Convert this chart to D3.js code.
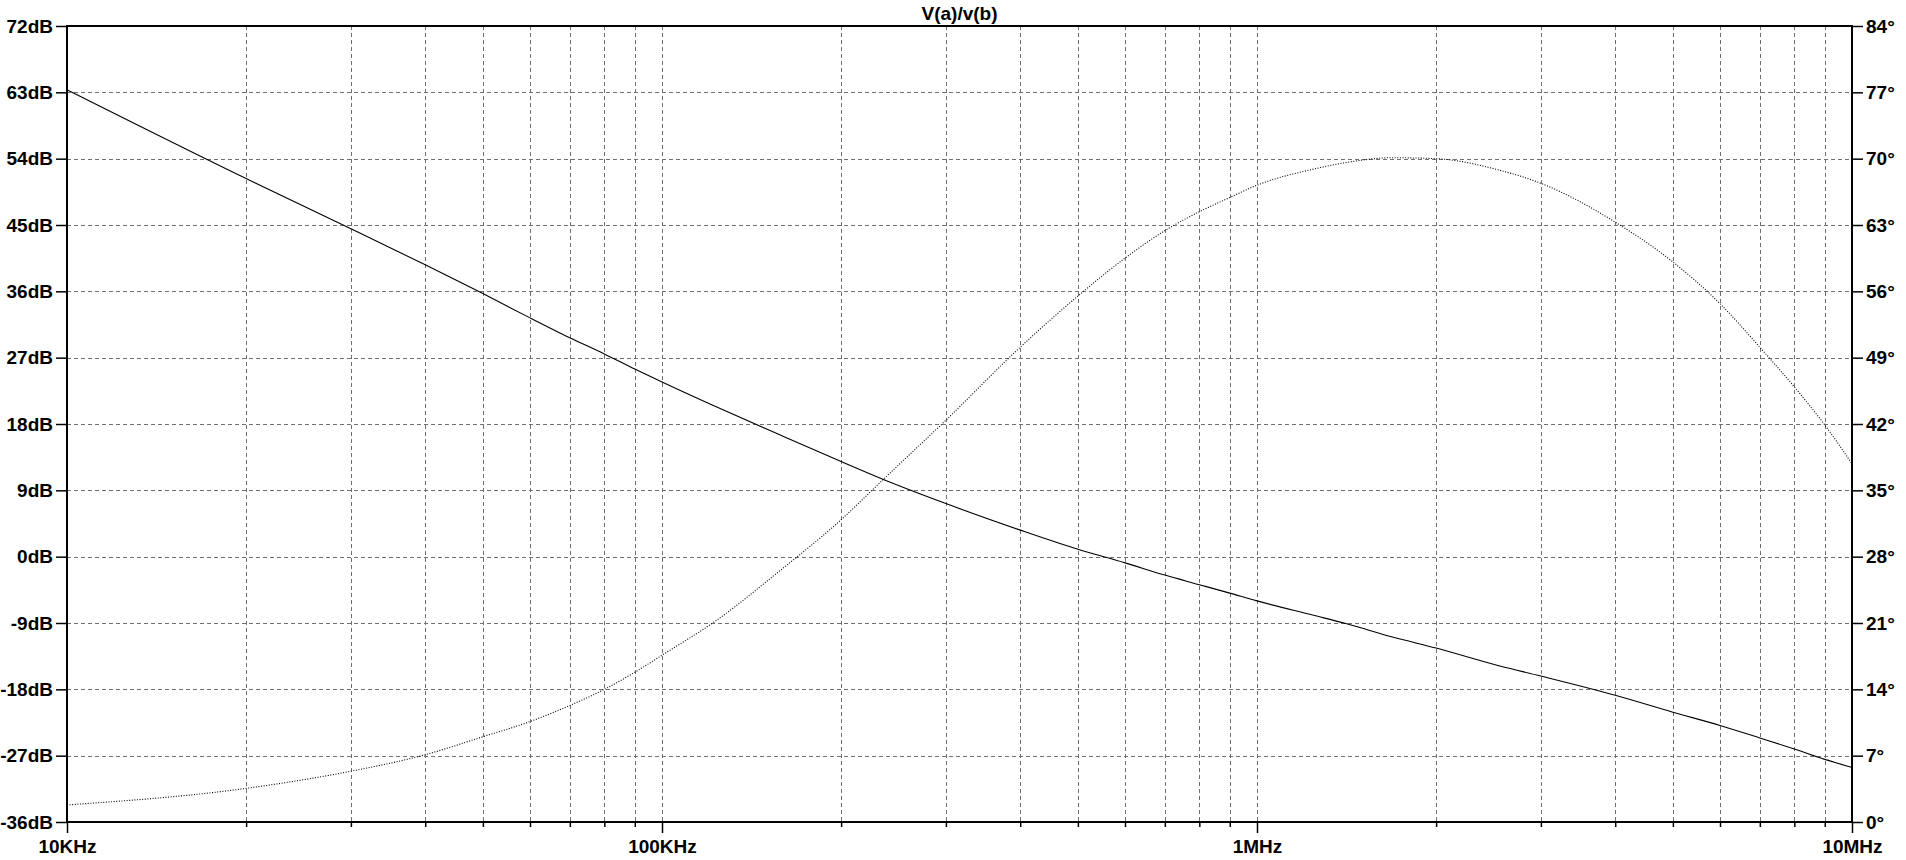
<!DOCTYPE html>
<html>
<head>
<meta charset="utf-8">
<script src="https://cdn.jsdelivr.net/npm/d3@7"></script>
<style>
  html, body { margin: 0; padding: 0; background: #fff; }
  svg { display: block; }
  text { font-family: "Liberation Sans", Arial, sans-serif; font-weight: bold; font-size: 19px; fill: #000; }
</style>
</head>
<body>
<svg id="chart" width="1906" height="860"></svg>
<script>
// ---- data ----
const title = "V(a)/v(b)";
const freqs = [1e4, 2e4, 3e4, 4e4, 5e4, 6e4, 7e4, 8e4, 9e4, 1e5,
  1.236e5, 1.57e5, 2e5, 2.35e5, 3e5, 4e5, 5e5, 6e5, 7e5, 8e5, 9e5, 1e6,
  1.245e6, 1.415e6, 1.69e6, 2e6, 2.55e6, 3e6, 4e6, 5e6, 6e6, 7e6, 8e6, 9e6, 1e7];
const magnitudeDB = [63.35, 51.3, 44.5, 39.6, 35.7, 32.4, 29.7, 27.5, 25.45, 23.7,
  20.3, 16.6, 12.9, 10.5, 7.2, 3.6, 1.0, -0.84, -2.5, -3.8, -4.95, -6.0,
  -7.95, -9.1, -10.9, -12.4, -14.8, -16.2, -18.8, -21.1, -22.9, -24.6, -26.1, -27.5, -28.6];
const phaseDeg = [1.8, 3.55, 5.36, 7.1, 9.0, 10.6, 12.3, 14.0, 15.8, 17.6,
  21.3, 26.4, 31.9, 36.1, 42.4, 50.1, 55.5, 59.5, 62.4, 64.4, 65.9, 67.2,
  68.9, 69.6, 70.1, 70.0, 68.8, 67.4, 63.3, 59.1, 54.7, 50.1, 45.9, 41.9, 37.8];
const dbTicks = [72, 63, 54, 45, 36, 27, 18, 9, 0, -9, -18, -27, -36];
const degTicks = [84, 77, 70, 63, 56, 49, 42, 35, 28, 21, 14, 7, 0];
const decadeTicks = [1e4, 1e5, 1e6, 1e7];
const decadeLabels = ["10KHz", "100KHz", "1MHz", "10MHz"];

// ---- layout ----
const L = 67, T = 26, R = 1852, B = 822;
const svg = d3.select("#chart");

const x = d3.scaleLog().domain([1e4, 1e7]).range([L, R]);
const yDB = d3.scaleLinear().domain([-36, 72]).range([B, T]);
const yDeg = d3.scaleLinear().domain([0, 84]).range([B, T]);

const minorTicks = [];
for (let d = 1e4; d < 1e7; d *= 10) for (let k = 2; k <= 9; k++) minorTicks.push(d * k);
const vGrid = minorTicks.concat(decadeTicks.filter(v => v > 1e4 && v < 1e7));

// grid
const grid = svg.append("g").attr("stroke", "#707070").attr("stroke-width", 1)
  .attr("stroke-dasharray", "4,3").attr("shape-rendering", "crispEdges");
grid.selectAll("line.v").data(vGrid).join("line").attr("class", "v")
  .attr("x1", d => Math.round(x(d)) + 0.5).attr("x2", d => Math.round(x(d)) + 0.5)
  .attr("y1", T).attr("y2", B);
grid.selectAll("line.h").data(dbTicks.filter(v => v !== 72 && v !== -36)).join("line").attr("class", "h")
  .attr("x1", L).attr("x2", R)
  .attr("y1", d => Math.round(yDB(d)) + 0.5).attr("y2", d => Math.round(yDB(d)) + 0.5);

// axes
const axL = svg.append("g").attr("transform", `translate(${L},0)`)
  .call(d3.axisLeft(yDB).tickValues(dbTicks).tickSize(11).tickPadding(3).tickFormat(d => d + "dB"));
const axR = svg.append("g").attr("transform", `translate(${R},0)`)
  .call(d3.axisRight(yDeg).tickValues(degTicks).tickSize(11).tickPadding(3).tickFormat(d => d + "°"));
const axBm = svg.append("g").attr("transform", `translate(0,${B})`)
  .call(d3.axisBottom(x).tickValues(minorTicks).tickSize(5).tickFormat(""));
const axB = svg.append("g").attr("transform", `translate(0,${B})`)
  .call(d3.axisBottom(x).tickValues(decadeTicks).tickSize(11).tickPadding(4)
    .tickFormat((d, i) => decadeLabels[i]));
[axL, axR, axBm, axB].forEach(g => {
  g.select(".domain").remove();
  g.selectAll("line").attr("stroke", "#000").attr("stroke-width", 1.5);
  g.selectAll("text").attr("font-family", null).attr("font-size", null).attr("fill", "#000");
});
axL.selectAll("text").attr("dy", "0.33em");
axR.selectAll("text").attr("dy", "0.33em");
axB.selectAll("text").attr("dy", "0.83em");

// frame
svg.append("rect").attr("x", L).attr("y", T).attr("width", R - L).attr("height", B - T)
  .attr("fill", "none").attr("stroke", "#000").attr("stroke-width", 2);

// title
svg.append("text").attr("x", (L + R) / 2).attr("y", 19.5).attr("text-anchor", "middle").text(title);

// curves
const pts = freqs.map((f, i) => ({ f, m: magnitudeDB[i], p: phaseDeg[i] }));
const magLine = d3.line().x(d => x(d.f)).y(d => yDB(d.m)).curve(d3.curveMonotoneX);
const phLine = d3.line().x(d => x(d.f)).y(d => yDeg(d.p)).curve(d3.curveMonotoneX);
svg.append("path").datum(pts).attr("d", magLine)
  .attr("fill", "none").attr("stroke", "#000").attr("stroke-width", 1.1);
svg.append("path").datum(pts).attr("d", phLine)
  .attr("fill", "none").attr("stroke", "#000").attr("stroke-width", 1.1)
  .attr("stroke-dasharray", "1,1.6");
</script>
</body>
</html>
